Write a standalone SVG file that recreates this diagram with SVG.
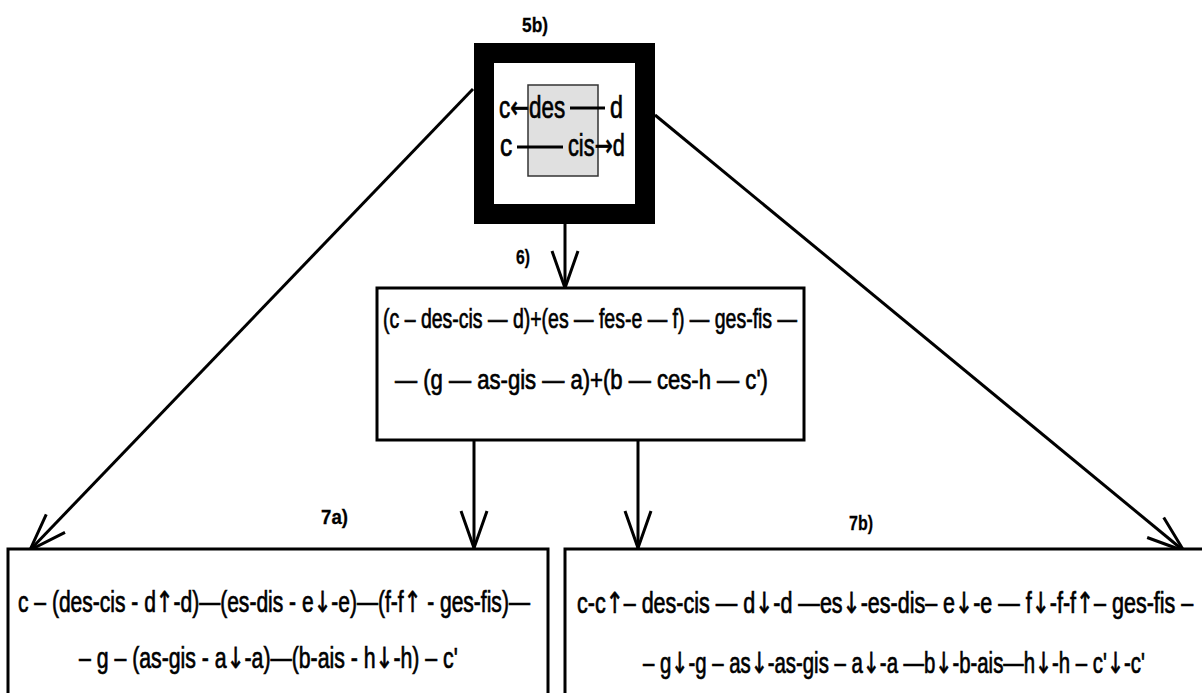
<svg xmlns="http://www.w3.org/2000/svg" width="1202" height="693" viewBox="0 0 1202 693">
<style>
text{font-family:"Liberation Sans Narrow","Liberation Sans",Arial,sans-serif;fill:#000;stroke:#000;stroke-width:0.7}
.t{font-size:29px}
.m{font-size:28px}
.k{font-size:31px}
.ia{font-family:"DejaVu Sans",sans-serif}
.lb{font-size:21px;font-weight:bold;stroke-width:0.3}
.box{fill:#fff;stroke:#000;stroke-width:3}
.con{stroke:#000;stroke-width:3;fill:none}
</style>
<defs>
<marker id="ah" markerUnits="userSpaceOnUse" viewBox="-40 -16 44 32" refX="0" refY="0" markerWidth="44" markerHeight="32" orient="auto">
<path d="M-37,-13 L0,0 L-37,13" fill="none" stroke="#000" stroke-width="3"/>
</marker>
</defs>
<rect width="1202" height="693" fill="#fff" stroke="none"/>

<g id="connectors">
<line class="con" x1="565" y1="224" x2="565" y2="288" marker-end="url(#ah)"/>
<line class="con" x1="473" y1="89" x2="30" y2="550" marker-end="url(#ah)"/>
<line class="con" x1="655" y1="115" x2="1184" y2="551" marker-end="url(#ah)"/>
<line class="con" x1="474" y1="440" x2="474" y2="548" marker-end="url(#ah)"/>
<line class="con" x1="638" y1="440" x2="638" y2="548" marker-end="url(#ah)"/>
</g>

<g id="node5b">
<text class="lb" x="522" y="32" textLength="26" lengthAdjust="spacingAndGlyphs">5b)</text>
<rect x="484" y="53" width="161" height="161" fill="#fff" stroke="#000" stroke-width="20"/>
<rect x="528" y="85" width="70" height="91" fill="#e0e0e0" stroke="#333" stroke-width="1.5"/>
<text class="k" transform="translate(499,118) scale(0.72,1)" textLength="92" lengthAdjust="spacingAndGlyphs">c<tspan class="ia">←</tspan>des</text>
<line x1="570" y1="108" x2="605" y2="108" stroke="#000" stroke-width="3"/>
<text class="k" transform="translate(610,118) scale(0.72,1)" textLength="18" lengthAdjust="spacingAndGlyphs">d</text>
<text class="k" transform="translate(500,156) scale(0.72,1)" textLength="17" lengthAdjust="spacingAndGlyphs">c</text>
<line x1="517" y1="147" x2="563" y2="147" stroke="#000" stroke-width="3"/>
<text class="k" transform="translate(568,156) scale(0.72,1)" textLength="79" lengthAdjust="spacingAndGlyphs">cis<tspan class="ia">→</tspan>d</text>
</g>

<g id="node6">
<text class="lb" x="516" y="264" textLength="14" lengthAdjust="spacingAndGlyphs">6)</text>
<rect class="box" x="377" y="288" width="427" height="152"/>
<text class="m" transform="translate(383,328) scale(0.72,1)" textLength="575" lengthAdjust="spacingAndGlyphs">(c – des-cis — d)+(es — fes-e — f) — ges-fis —</text>
<text class="m" transform="translate(395,389) scale(0.72,1)" textLength="518" lengthAdjust="spacingAndGlyphs">— (g — as-gis — a)+(b — ces-h — c')</text>
</g>

<g id="node7a">
<text class="lb" x="321" y="524" textLength="27" lengthAdjust="spacingAndGlyphs">7a)</text>
<rect class="box" x="8" y="549" width="540" height="160"/>
<text class="t" transform="translate(18,612) scale(0.72,1)" textLength="711" lengthAdjust="spacingAndGlyphs">c – (des-cis - d<tspan class="ia">↑</tspan>-d)—(es-dis - e<tspan class="ia">↓</tspan>-e)—(f-f<tspan class="ia">↑</tspan> - ges-fis)—</text>
<text class="t" transform="translate(79,668) scale(0.72,1)" textLength="526" lengthAdjust="spacingAndGlyphs">– g – (as-gis - a<tspan class="ia">↓</tspan>-a)—(b-ais - h<tspan class="ia">↓</tspan>-h) – c'</text>
</g>

<g id="node7b">
<text class="lb" x="849" y="530" textLength="24" lengthAdjust="spacingAndGlyphs">7b)</text>
<rect class="box" x="565" y="549" width="650" height="160"/>
<text class="t" transform="translate(577,613) scale(0.72,1)" textLength="856" lengthAdjust="spacingAndGlyphs">c-c<tspan class="ia">↑</tspan>– des-cis — d<tspan class="ia">↓</tspan>-d —es<tspan class="ia">↓</tspan>-es-dis– e<tspan class="ia">↓</tspan>-e — f<tspan class="ia">↓</tspan>-f-f<tspan class="ia">↑</tspan>– ges-fis –</text>
<text class="t" transform="translate(643,673) scale(0.72,1)" textLength="697" lengthAdjust="spacingAndGlyphs">– g<tspan class="ia">↓</tspan>-g – as<tspan class="ia">↓</tspan>-as-gis – a<tspan class="ia">↓</tspan>-a —b<tspan class="ia">↓</tspan>-b-ais—h<tspan class="ia">↓</tspan>-h – c'<tspan class="ia">↓</tspan>-c'</text>
</g>
</svg>
